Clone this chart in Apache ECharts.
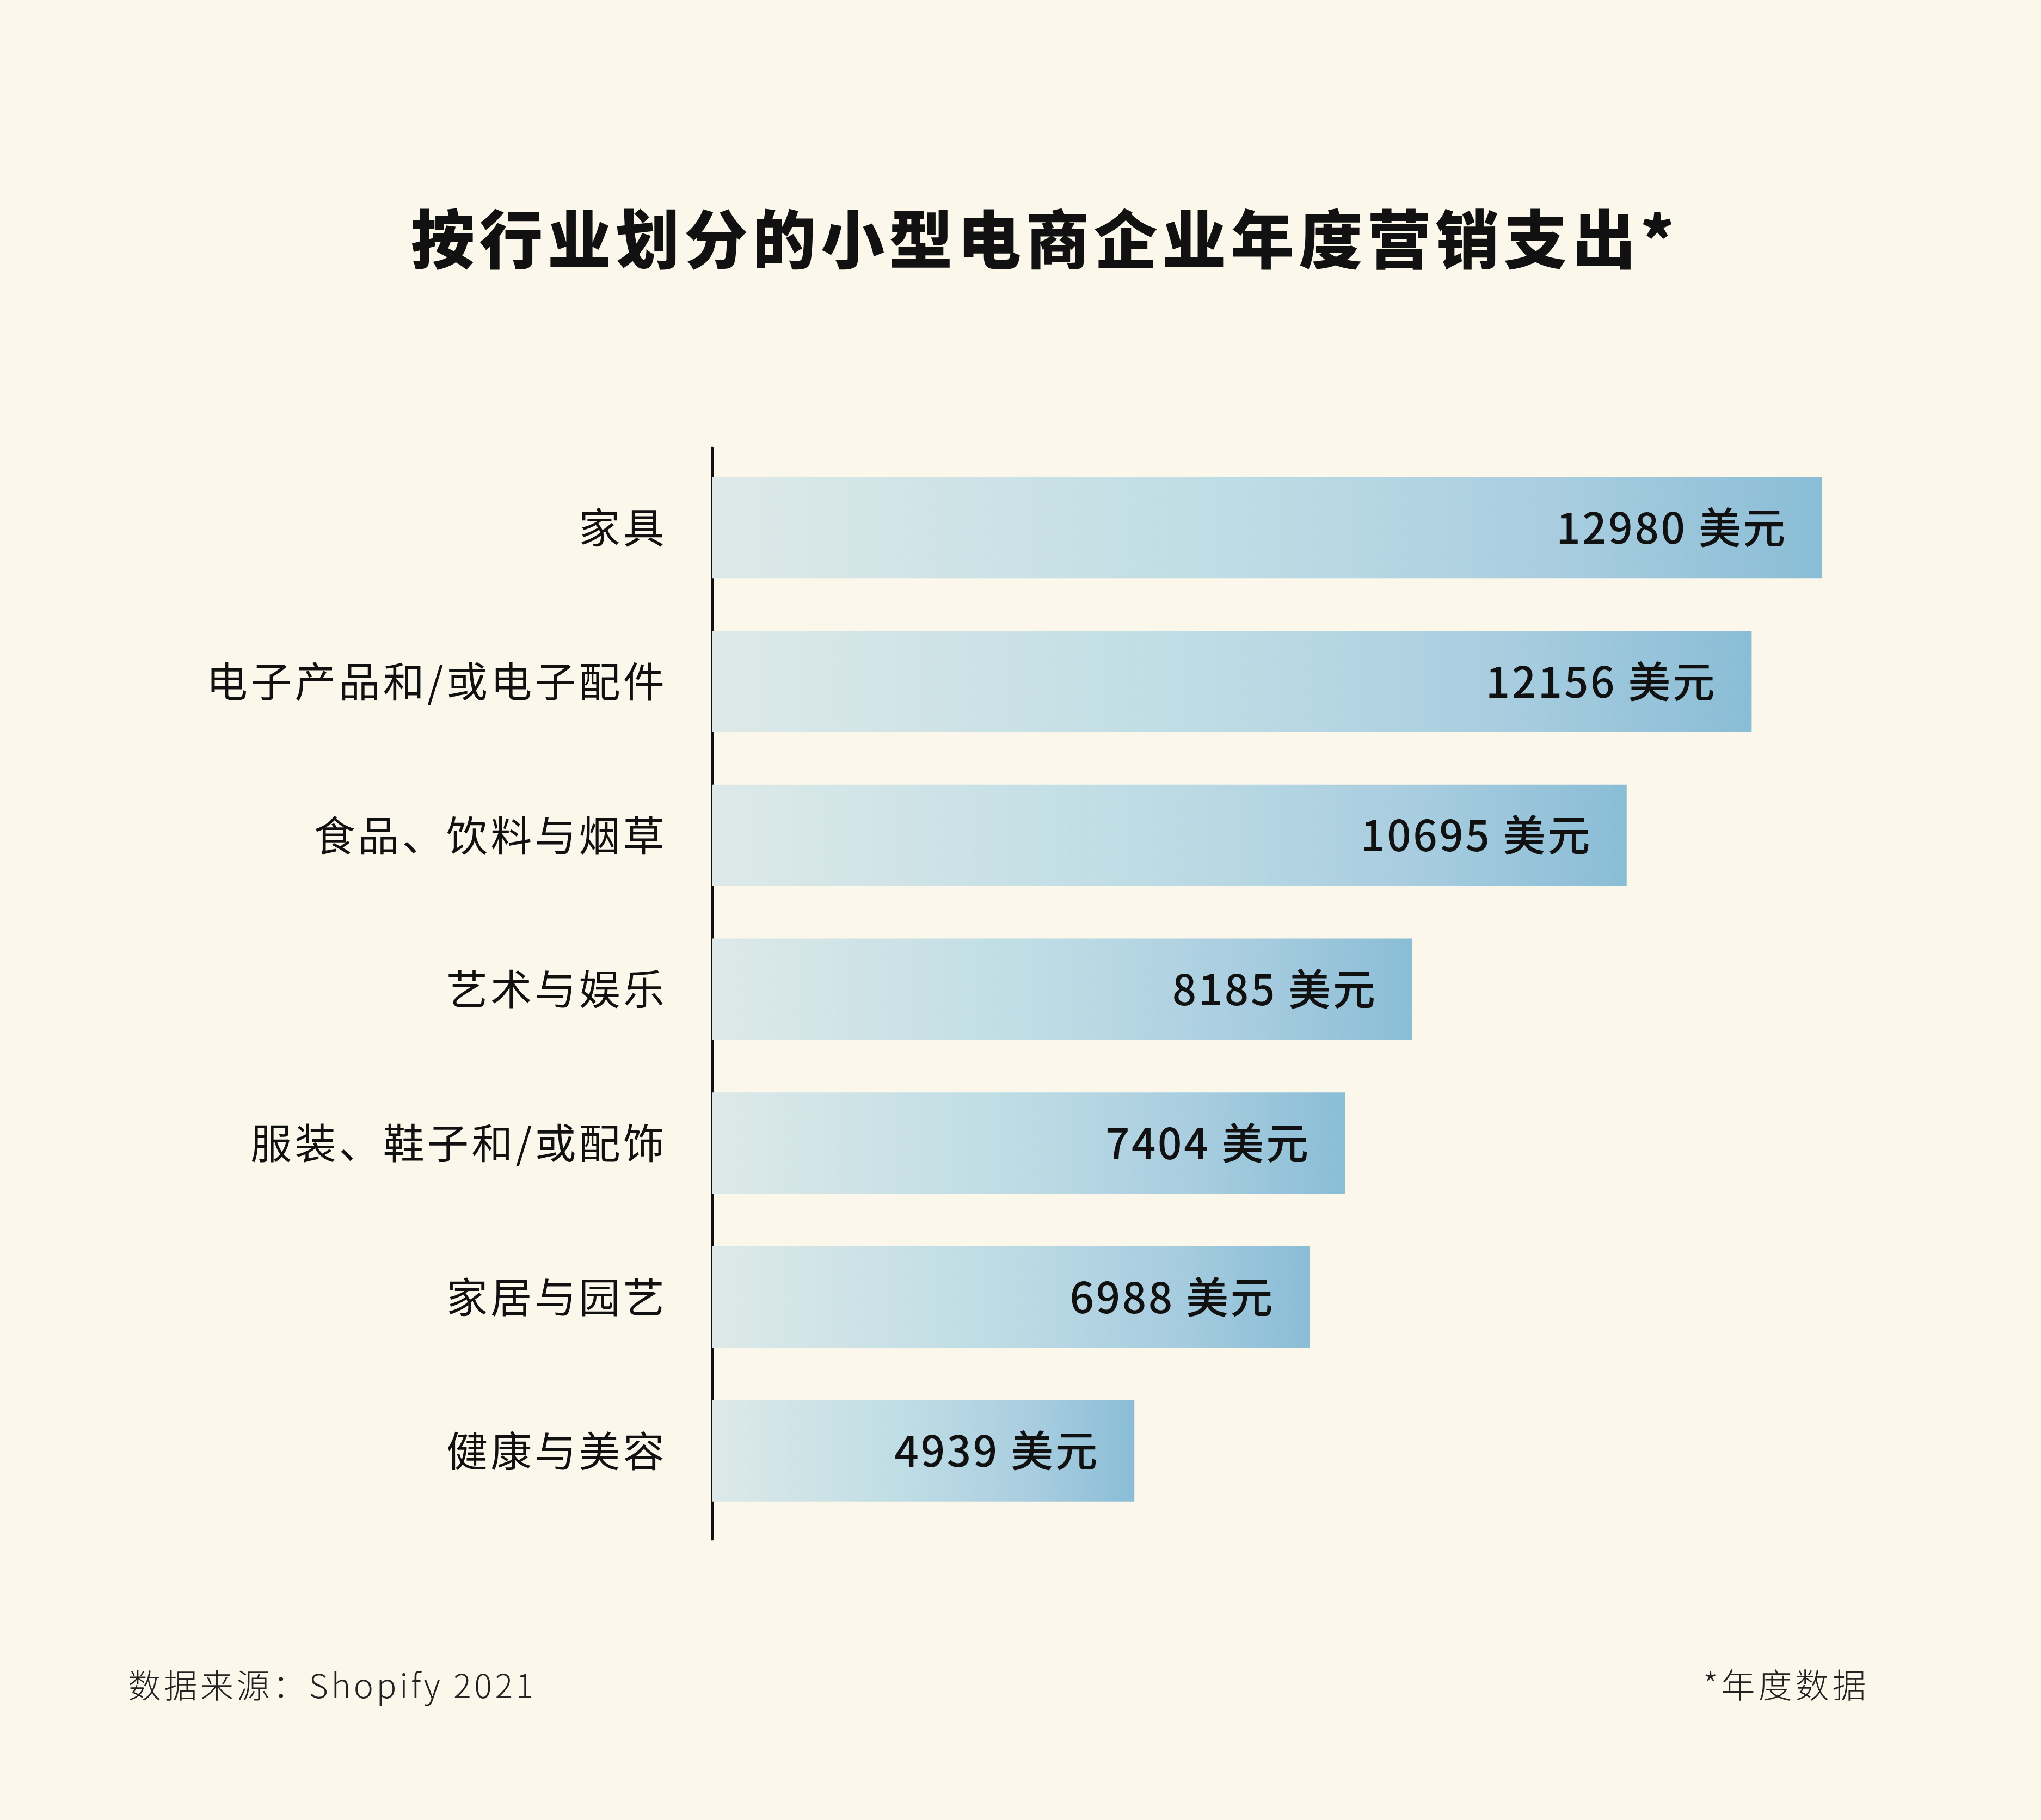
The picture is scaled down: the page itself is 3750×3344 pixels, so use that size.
<!DOCTYPE html>
<html><head><meta charset="utf-8">
<script src="https://cdn.jsdelivr.net/npm/echarts@6/dist/echarts.min.js"></script>
<style>html,body{margin:0;padding:0;background:#fbf7eb}#c{width:3750px;height:3344px}</style>
</head><body><div id="c"></div>
<script>
const categories = ['家具','电子产品和/或电子配件','食品、饮料与烟草','艺术与娱乐','服装、鞋子和/或配饰','家居与园艺','健康与美容'];
const values = [12980, 12156, 10695, 8185, 7404, 6988, 4939];
const unit = '美元';
const titleText = '按行业划分的小型电商企业年度营销支出*';
const sourceText = '数据来源：Shopify 2021';
const noteText = '*年度数据';

// letter spacing per font size (canvas letterSpacing)
const spacingBySize = {117: 8.5, 76: 5.2, 78: 3.6, 62: 6, 61: 5.5};
(function(){
  const proto = CanvasRenderingContext2D.prototype;
  const orig = proto.fillText;
  proto.fillText = function(t, x, y, w){
    const m = /(\d+(?:\.\d+)?)px/.exec(this.font || '');
    const s = m ? spacingBySize[Math.round(parseFloat(m[1]))] : undefined;
    if ('letterSpacing' in this) this.letterSpacing = (s || 0) + 'px';
    return w === undefined ? orig.call(this, t, x, y) : orig.call(this, t, x, y, w);
  };
})();

const font = "'Noto Sans CJK SC', 'Noto Sans', sans-serif";
const chart = echarts.init(document.getElementById('c'), null, {renderer:'canvas'});
chart.setOption({
  backgroundColor: '#fbf7eb',
  animation: false,
  title: [
    {text: titleText, left: 750, top: 376, textStyle:{fontFamily:font, fontSize:117, fontWeight:900, color:'#111'}},
    {text: sourceText, left: 230, top: 3061, textStyle:{fontFamily:font, fontSize:61, fontWeight:300, color:'#222'}},
    {text: noteText, left: 3124, top: 3060, textStyle:{fontFamily:font, fontSize:62, fontWeight:300, color:'#222'}}
  ],
  grid: [
    {left:1308, right:399, top:828, bottom:537, containLabel:false},
    {left:1308, right:399, top:823, bottom:3344-2828, containLabel:false}
  ],
  xAxis: [
    {gridIndex:0, type:'value', min:0, max:13000, show:false},
    {gridIndex:1, type:'value', min:0, max:1, show:false}
  ],
  yAxis: [
    {gridIndex:0, type:'category', inverse:true, data:categories,
     axisLine:{show:false}, axisTick:{show:false}, splitLine:{show:false},
     axisLabel:{margin:82, fontFamily:font, fontSize:76, fontWeight:400, color:'#111'}},
    {gridIndex:1, type:'category', data:[''], axisLine:{show:true, lineStyle:{color:'#111', width:5}},
     axisTick:{show:false}, axisLabel:{show:false}, splitLine:{show:false}}
  ],
  series: [{
    type:'bar', xAxisIndex:0, yAxisIndex:0, data: values, barWidth:186,
    itemStyle:{color: new echarts.graphic.LinearGradient(0,0,1,0,[
      {offset:0, color:'#dde9e8'},
      {offset:0.45, color:'#bfdde5'},
      {offset:0.75, color:'#aacee0'},
      {offset:1, color:'#8abdd6'}
    ])},
    label:{show:true, position:'insideRight', distance:64,
      formatter: p => p.value + ' ' + unit,
      fontFamily:font, fontSize:78, fontWeight:500, color:'#111'}
  }]
});
</script></body></html>
